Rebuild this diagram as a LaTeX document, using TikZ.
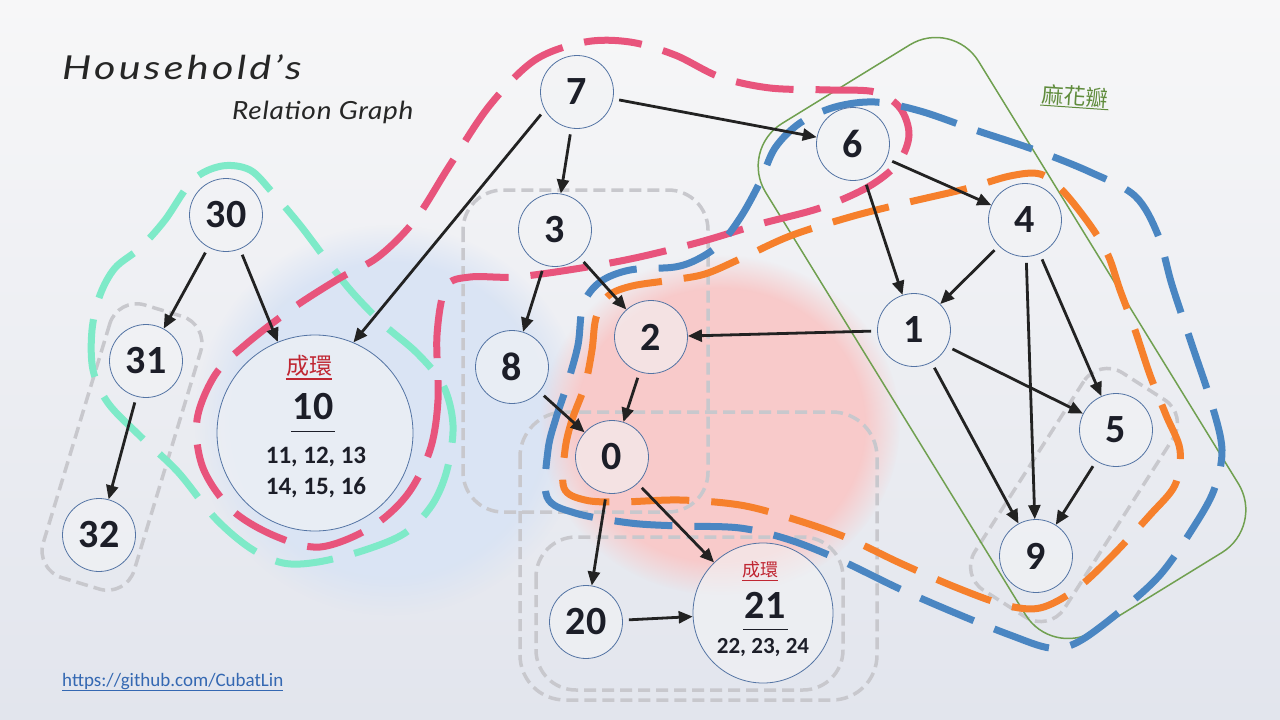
\documentclass[tikz,border=0pt]{standalone}
\usepackage{fontspec}
\setmainfont{Carlito}
\newfontfamily\titlefont{Lato}
\newfontfamily\cjkfont{Noto Sans CJK TC}
\usetikzlibrary{arrows.meta,fadings}

\definecolor{pinkline}{RGB}{232,84,124}
\definecolor{mintline}{RGB}{126,234,200}
\definecolor{blueline}{RGB}{74,134,194}
\definecolor{orangeline}{RGB}{246,128,44}
\definecolor{greenline}{RGB}{112,160,80}
\definecolor{greyline}{RGB}{200,200,205}
\definecolor{nodeedge}{RGB}{84,116,164}
\definecolor{nodefill}{RGB}{242,243,245}
\definecolor{arrowc}{RGB}{34,34,34}
\definecolor{ringred}{RGB}{192,38,50}
\definecolor{linkblue}{RGB}{52,104,178}
\definecolor{petalgreen}{RGB}{96,140,60}
\definecolor{numc}{RGB}{28,30,40}
\definecolor{bgtop}{RGB}{247,247,248}
\definecolor{bgbottom}{RGB}{226,229,237}
\definecolor{blueblob}{RGB}{218,228,244}
\definecolor{redblob}{RGB}{248,202,202}

\tikzset{
  vert/.style={circle, draw=nodeedge, line width=0.8pt, fill=nodefill, fill opacity=0.6,
    text opacity=1, minimum size=73pt, inner sep=0pt, text=numc,
    font=\bfseries\fontsize{40}{40}\selectfont},
  rel/.style={draw=arrowc, line width=2.8pt, -{Triangle[length=14pt,width=12pt]}, shorten <=6pt},
  boxline/.style={draw=greyline, line width=3.5pt, dash pattern=on 12pt off 6pt, rounded corners=#1},
  boxline/.default=40pt,
  hull/.style={draw=#1, line width=7pt, dash pattern=on 58pt off 22pt},
  ringlbl/.style={text=ringred, inner sep=0pt, font=\cjkfont\fontsize{#1}{#1}\selectfont},
  members/.style={text=numc, inner sep=0pt, font=\bfseries\fontsize{#1}{#1}\selectfont},
}

\begin{document}
\begin{tikzpicture}[x=1pt,y=1pt,yscale=-1,xscale=1]
\useasboundingbox (0,0) rectangle (1280,720);

% background
\shade[top color=bgtop, bottom color=bgbottom] (0,0) rectangle (1280,720);
\fill[blueblob, path fading=circle with fuzzy edge 20 percent] (390,420) ellipse (195 and 195);
\fill[redblob, path fading=circle with fuzzy edge 20 percent] (720,425) ellipse (180 and 170);

% grey groups
\draw[boxline] (463,190) rectangle (708,512);
\draw[boxline=45pt] (520,412) rectangle (877,700);
\draw[boxline] (536,537) rectangle (843,690);
\node[boxline=28pt, minimum width=285pt, minimum height=95pt, rotate=73.1] (g31) at (122,447) {};
\node[boxline=28pt, minimum width=258pt, minimum height=106pt, rotate=57.4] (g5) at (1074,495) {};

% green petal
\node[draw=greenline, line width=1.5pt, rounded corners=50pt, minimum width=596pt, minimum height=250pt, rotate=-58.4] (petalbox) at (1002,338) {};

% dashed hulls
\draw[hull=mintline] plot[smooth cycle, tension=0.55] coordinates {(193,180) (222,166) (250,170) (272,192) (300,225) (325,258) (352,292) (383,324) (417,353) (443,385) (453,425) (447,470) (432,505) (405,533) (365,550) (318,562) (283,563) (250,548) (215,518) (178,472) (140,436) (108,403) (93,370) (92,330) (100,295) (115,268) (140,248) (165,220)};
\draw[hull=pinkline] plot[smooth cycle, tension=0.55] coordinates {(437,335) (438,400) (430,450) (407,495) (370,528) (320,547) (275,536) (232,510) (203,468) (197,420) (215,375) (245,345) (293,308) (340,278) (378,257) (415,220) (450,165) (490,105) (535,60) (585,42) (630,42) (675,55) (720,77) (770,88) (830,90) (875,92) (900,108) (909,135) (898,163) (868,187) (820,208) (760,224) (700,242) (635,258) (575,269) (515,277) (470,277) (446,287)};
\draw[hull=blueline] plot[smooth cycle, tension=0.55] coordinates {(547,497) (548,450) (556,418) (567,385) (578,345) (583,305) (600,282) (630,270) (675,267) (700,258) (722,242) (742,215) (760,182) (775,148) (800,123) (835,107) (875,102) (920,111) (975,130) (1035,150) (1090,172) (1135,196) (1158,235) (1172,285) (1192,345) (1212,405) (1222,450) (1214,490) (1193,528) (1160,575) (1118,613) (1078,642) (1050,648) (1010,635) (960,615) (900,589) (840,560) (790,540) (740,528) (680,526) (630,523) (575,513)};
\draw[hull=orangeline] plot[smooth cycle, tension=0.55] coordinates {(564,488) (565,450) (572,420) (585,385) (592,350) (596,318) (608,296) (632,286) (672,280) (705,274) (740,259) (790,236) (850,217) (905,203) (965,189) (1010,176) (1040,174) (1062,190) (1090,225) (1108,255) (1120,290) (1135,330) (1150,375) (1166,415) (1180,450) (1175,485) (1150,515) (1110,558) (1075,590) (1040,608) (1005,605) (955,587) (900,563) (845,537) (790,518) (740,505) (680,500) (620,502) (585,500)};

% nodes
\node[vert] (n7) at (577,92) {7};
\node[vert] (n6) at (853,144) {6};
\node[vert] (n3) at (555,230) {3};
\node[vert] (n4) at (1025,220) {4};
\node[vert] (n2) at (651,337) {2};
\node[vert] (n1) at (914,330) {1};
\node[vert] (n8) at (512,367) {8};
\node[vert] (n0) at (612,457) {0};
\node[vert] (n5) at (1116,430) {5};
\node[vert] (n9) at (1036,556) {9};
\node[vert] (n20) at (586,622) {20};
\node[vert] (n30) at (226,215) {30};
\node[vert] (n31) at (146,361) {31};
\node[vert] (n32) at (99,535) {32};
\node[vert, minimum size=196pt] (n10) at (315,433) {};
\node[vert, minimum size=140pt] (n21) at (763,613) {};

% cycle contents
\node[ringlbl=23] (ring10) at (309,366) {成環};
\draw[ringred, line width=1.3pt] ([yshift=2pt]ring10.south west) -- ([yshift=2pt]ring10.south east);
\node[members=40] (head10) at (313,407) {10};
\draw[numc, line width=1pt] (291,431) -- (335,431);
\node[members=25] (rowa10) at (316,457) {11, 12, 13};
\node[members=25] (rowb10) at (316,488) {14, 15, 16};

\node[ringlbl=18] (ring21) at (760,570) {成環};
\draw[ringred, line width=1.2pt] ([yshift=2pt]ring21.south west) -- ([yshift=2pt]ring21.south east);
\node[members=40] (head21) at (765,605) {21};
\draw[numc, line width=1pt] (743,629) -- (788,629);
\node[members=23] (row21) at (763,648) {22, 23, 24};

% relations
\draw[rel] (n7) -- (n3);
\draw[rel] (n7.209) -- (n10.67);
\draw[rel] (n7) -- (n6);
\draw[rel] (n6) -- (n4);
\draw[rel] (n6) -- (n1);
\draw[rel] (n4) -- (n1);
\draw[rel] (n4) -- (n9);
\draw[rel] (n4) -- (n5);
\draw[rel] (n1) -- (n2);
\draw[rel] (n1) -- (n5);
\draw[rel] (n1) -- (n9);
\draw[rel] (n5) -- (n9);
\draw[rel] (n3) -- (n8);
\draw[rel] (n3) -- (n2);
\draw[rel] (n2) -- (n0);
\draw[rel] (n8) -- (n0);
\draw[rel] (n0) -- (n20);
\draw[rel] (n0) -- (n21);
\draw[rel] (n20) -- (n21);
\draw[rel] (n30) -- (n31);
\draw[rel] (n30) -- (n10);
\draw[rel] (n31) -- (n32);

% titles
\node[anchor=base west, inner sep=0pt, text=black!85, font=\titlefont\itshape\addfontfeatures{FakeStretch=1.25,LetterSpace=10}\fontsize{33}{33}\selectfont] (title) at (62,79) {Household’s};
\node[anchor=base west, inner sep=0pt, text=black!85, font=\titlefont\itshape\addfontfeatures{FakeStretch=1.12,LetterSpace=3}\fontsize{25}{25}\selectfont] (subtitle) at (232,119) {Relation Graph};
\node[rotate=-4, inner sep=1pt, text=petalgreen, font=\cjkfont\fontsize{22}{22}\selectfont] (petal) at (1075,96) {麻花瓣};
\draw[petalgreen, line width=1pt] (petal.south west) -- (petal.south east);
\node[anchor=base west, inner sep=0pt, text=linkblue, font=\fontsize{19}{19}\selectfont] (link) at (62,686) {\underline{https://github.com/CubatLin}};
\end{tikzpicture}
\end{document}
